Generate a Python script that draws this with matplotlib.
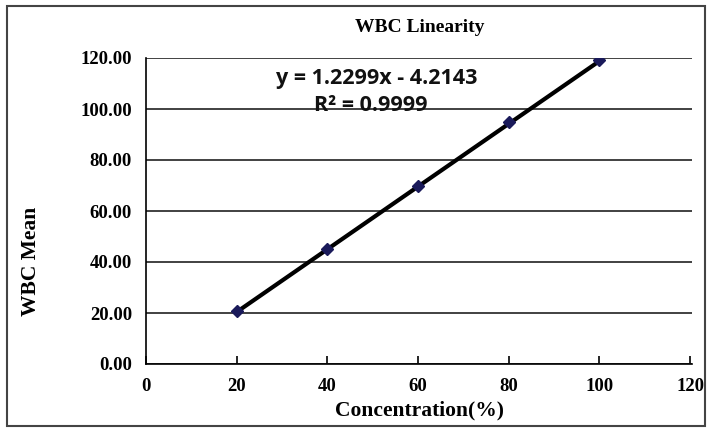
import matplotlib
matplotlib.use("Agg")
import matplotlib.pyplot as plt
from matplotlib.patches import Rectangle
import numpy as np

concentration = [20, 40, 60, 80, 100]
wbc_mean = [20.8, 45.0, 70.0, 95.0, 119.2]
x_ticks = [0, 20, 40, 60, 80, 100, 120]
y_ticks = [0, 20, 40, 60, 80, 100, 120]
slope, intercept, r2 = 1.2299, -4.2143, 0.9999

fig = plt.figure(figsize=(7.1, 4.3), dpi=100)
fig.patches.append(Rectangle((0.010, 0.010), 0.983, 0.975, transform=fig.transFigure,
                             fill=False, edgecolor='#444444', linewidth=1.5))
ax = fig.add_axes([146/710, 1-364/430, (692-146)/710, (364-58)/430])

serif = 'Liberation Serif'
ax.set_xlim(0, 120 * 546/544)
ax.set_ylim(0, 120)
ax.set_xticks(x_ticks)
ax.set_yticks(y_ticks)
ax.set_yticklabels([f"{v:.2f}" for v in y_ticks], fontfamily=serif, fontweight='bold', fontsize=13.5)
ax.set_xticklabels([str(v) for v in x_ticks], fontfamily=serif, fontweight='bold', fontsize=13.5)
ax.tick_params(axis='x', direction='in', length=6, width=1.2, pad=10)
ax.tick_params(axis='y', length=0, pad=10)
ax.grid(axis='y', color='#333333', linewidth=1.3)
ax.set_axisbelow(True)
for s in ['top', 'right']:
    ax.spines[s].set_visible(False)
ax.spines['left'].set_linewidth(1.2)
ax.spines['bottom'].set_linewidth(1.2)

xs = np.array([concentration[0], concentration[-1]])
ax.plot(xs, slope * xs + intercept, color='black', linewidth=3, zorder=3)
ax.plot(concentration, wbc_mean, linestyle='none', marker='D', markersize=6,
        color='#1a1a5a', zorder=4)

ax.text(50.8, 112, f"y = {slope}x - {abs(intercept)}", ha='center', va='center',
        fontfamily='Open Sans', fontweight='bold', fontsize=15.5, color='#111111')
ax.text(49.5, 101.5, f"R\u00b2 = {r2}", ha='center', va='center',
        fontfamily='Open Sans', fontweight='bold', fontsize=15.5, color='#111111')

fig.text(420/710, 1-27/430, "WBC Linearity", ha='center', va='center',
         fontfamily=serif, fontweight='bold', fontsize=14)
fig.text(420/710, 1-410/430, "Concentration(%)", ha='center', va='center',
         fontfamily=serif, fontweight='bold', fontsize=15.5)
fig.text(31/710, 1-261/430, "WBC Mean", ha='center', va='center', rotation=90,
         fontfamily=serif, fontweight='bold', fontsize=15.5)

fig.savefig("out.png", dpi=100)
